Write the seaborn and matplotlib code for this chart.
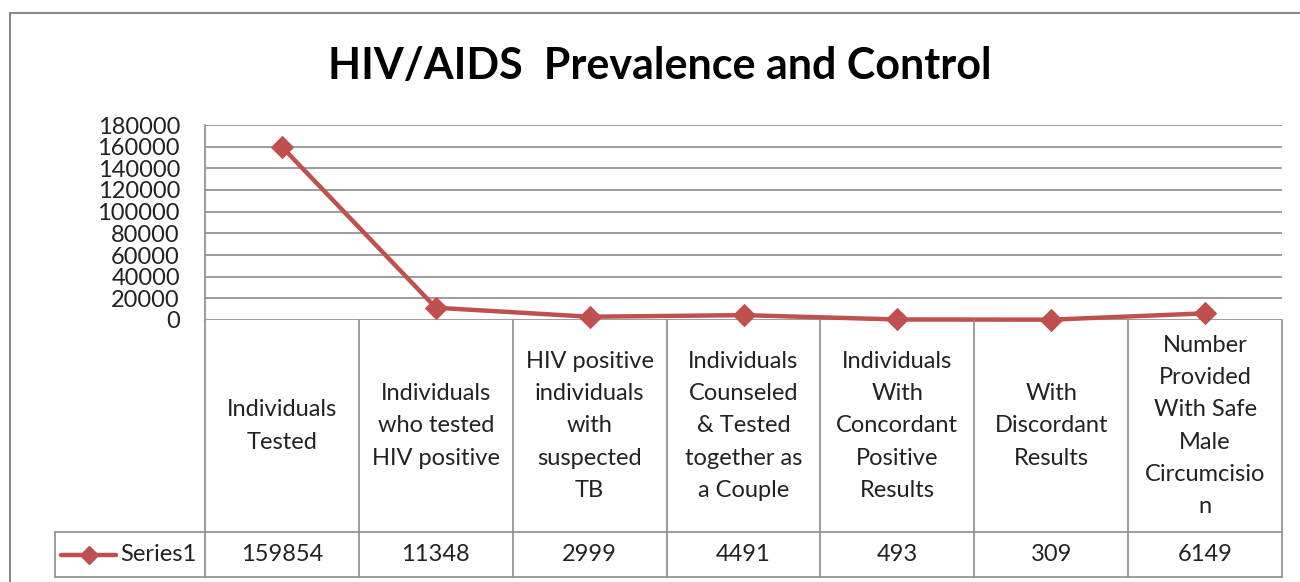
import numpy as np
import pandas as pd
import seaborn as sns
import matplotlib.pyplot as plt
from matplotlib.patches import Rectangle
from matplotlib.lines import Line2D


categories = [
    'Individuals\nTested',
    'Individuals\nwho tested\nHIV positive',
    'HIV positive\nindividuals\nwith\nsuspected\nTB',
    'Individuals\nCounseled\n& Tested\ntogether as\na Couple',
    'Individuals\nWith\nConcordant\nPositive\nResults',
    'With\nDiscordant\nResults',
    'Number\nProvided\nWith Safe\nMale\nCircumcisio\nn',
]
series_name = 'Series1'
values = [159854, 11348, 2999, 4491, 493, 309, 6149]
y_ticks = list(range(0, 180001, 20000))
title = 'HIV/AIDS  Prevalence and Control'

LINE_COLOR = '#C0504D'
GRID_COLOR = '#8c8c8c'
TEXT_COLOR = '#222222'
FONT_SIZE = 17

sns.set_theme(style='white')
plt.rcParams['font.family'] = ['Lato', 'DejaVu Sans']

W, H = 1300, 582
fig = plt.figure(figsize=(W / 100, H / 100), dpi=100)

# outer chart frame (runs off the right and bottom edges)
fig.patches.append(Rectangle((10 / W, -0.1), 1.2, 1.1 - 13 / H,
                             transform=fig.transFigure, fill=False,
                             edgecolor='#8a8a8a', linewidth=1.5))

fig.text(660 / W, 1 - 66 / H, title, ha='center', va='center',
         fontsize=31, fontweight='bold', color='black')

# plot area
left, right = 205 / W, 1282 / W
ax = fig.add_axes([left, 1 - 320 / H, right - left, 195 / H])
df = pd.DataFrame({'x': np.arange(len(values)), 'value': values})
sns.lineplot(data=df, x='x', y='value', ax=ax, color=LINE_COLOR,
             linewidth=3.2, marker='D', markersize=11,
             markeredgecolor=LINE_COLOR, clip_on=False, zorder=5)
ax.set_xlim(-0.5, len(values) - 0.5)
ax.set_ylim(0, 180000)
ax.set_yticks(y_ticks)
ax.set_yticklabels([str(t) for t in y_ticks], fontsize=FONT_SIZE,
                   color=TEXT_COLOR)
ax.set_xticks([])
ax.set_xlabel('')
ax.set_ylabel('')
ax.tick_params(axis='y', length=0, pad=18)
for t in y_ticks:
    ax.axhline(t, color=GRID_COLOR, linewidth=1.2, zorder=1)
for side in ['top', 'right', 'bottom']:
    ax.spines[side].set_visible(False)
ax.spines['left'].set_color(GRID_COLOR)
ax.spines['left'].set_linewidth(1.2)

# data table below the plot area
tax = fig.add_axes([left, 1 - 577 / H, right - left, 257 / H])
tax.set_xlim(-0.5, len(values) - 0.5)
tax.set_ylim(0, 1)
tax.axis('off')
row_split = 45 / 257
key_left = -0.5 - 150 / ((1282 - 205) / len(values))
lk = dict(color=GRID_COLOR, linewidth=1.2, clip_on=False)
for i in range(len(values) + 1):
    tax.plot([i - 0.5, i - 0.5], [0, 1], **lk)
tax.plot([key_left, len(values) - 0.5], [row_split, row_split], **lk)
tax.plot([key_left, len(values) - 0.5], [0, 0], **lk)
tax.plot([key_left, key_left], [0, row_split], **lk)

for i, (cat, val) in enumerate(zip(categories, values)):
    tax.text(i, (1 + row_split) / 2, cat, ha='center', va='center',
             fontsize=FONT_SIZE, color=TEXT_COLOR, linespacing=1.65)
    tax.text(i, row_split / 2, str(val), ha='center', va='center',
             fontsize=FONT_SIZE, color=TEXT_COLOR)

# legend key inside the table
cell_w = (1282 - 205) / len(values)
kx0 = key_left + 6 / cell_w
kx1 = key_left + 61 / cell_w
tax.add_line(Line2D([kx0, kx1], [row_split / 2] * 2, color=LINE_COLOR,
                    linewidth=3.2, clip_on=False))
tax.add_line(Line2D([(kx0 + kx1) / 2], [row_split / 2], color=LINE_COLOR,
                    marker='D', markersize=9, clip_on=False))
tax.text(key_left + 65 / cell_w, row_split / 2, series_name, ha='left',
         va='center', fontsize=FONT_SIZE, color=TEXT_COLOR)

fig.savefig('out.png', dpi=100)
